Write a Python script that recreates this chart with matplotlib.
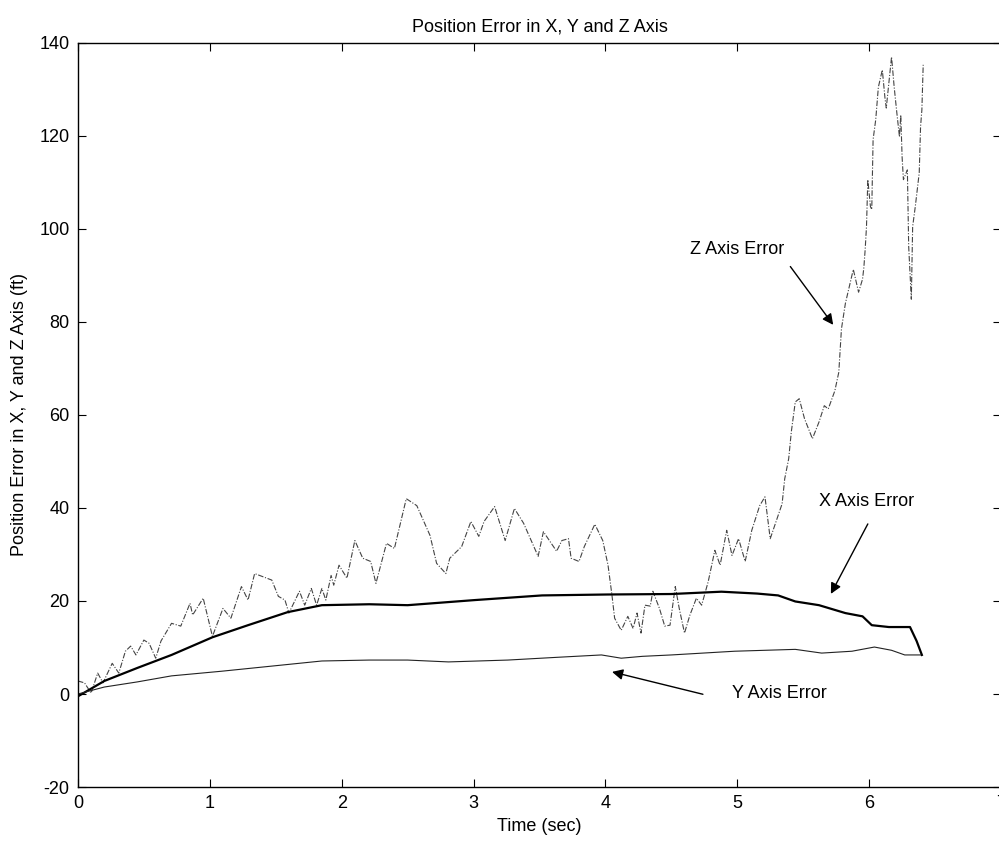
import matplotlib
matplotlib.use('Agg')
import matplotlib.pyplot as plt

plt.rcParams['font.family'] = ['Liberation Sans', 'DejaVu Sans']
plt.rcParams['axes.unicode_minus'] = False

# position error traces (ft) vs time (sec)
t_x = [0.00, 0.20, 0.45, 0.71, 1.02, 1.29, 1.59, 1.85, 2.21, 2.50, 3.01, 3.52,
       4.02, 4.50, 4.88, 5.15, 5.31, 5.44, 5.62, 5.82, 5.95, 6.02, 6.15, 6.31,
       6.36, 6.40]
err_x = [-0.5, 2.8, 5.6, 8.4, 12.2, 14.8, 17.6, 19.1, 19.3, 19.1, 20.2, 21.2,
         21.4, 21.5, 22.0, 21.6, 21.2, 19.9, 19.1, 17.4, 16.7, 14.8, 14.4, 14.4,
         11.4, 8.4]

t_y = [0.00, 0.20, 0.45, 0.71, 1.09, 1.47, 1.85, 2.21, 2.50, 2.81, 3.26, 3.64,
       3.97, 4.12, 4.28, 4.50, 4.98, 5.44, 5.64, 5.87, 6.04, 6.17, 6.27, 6.39]
err_y = [0.0, 1.5, 2.6, 3.9, 4.9, 6.0, 7.1, 7.3, 7.3, 6.9, 7.3, 7.9,
         8.4, 7.7, 8.1, 8.4, 9.2, 9.6, 8.8, 9.2, 10.1, 9.4, 8.4, 8.4]

t_z = [0.00, 0.05, 0.10, 0.15, 0.19, 0.26, 0.31, 0.36, 0.40, 0.44, 0.50, 0.54,
       0.59, 0.63, 0.71, 0.78, 0.85, 0.87, 0.95, 1.02, 1.10, 1.16, 1.24, 1.29,
       1.34, 1.47, 1.52, 1.57, 1.60, 1.68, 1.72, 1.77, 1.81, 1.85, 1.88, 1.92,
       1.94, 1.98, 2.04, 2.10, 2.16, 2.22, 2.26, 2.34, 2.40, 2.49, 2.57, 2.67,
       2.72, 2.79, 2.82, 2.91, 2.98, 3.04, 3.08, 3.16, 3.24, 3.31, 3.38, 3.44,
       3.49, 3.53, 3.58, 3.63, 3.67, 3.72, 3.74, 3.80, 3.84, 3.92, 3.98, 4.02,
       4.05, 4.07, 4.12, 4.17, 4.21, 4.24, 4.27, 4.30, 4.34, 4.36, 4.41, 4.45,
       4.49, 4.53, 4.56, 4.60, 4.64, 4.69, 4.73, 4.78, 4.83, 4.87, 4.92, 4.96,
       5.01, 5.06, 5.11, 5.17, 5.21, 5.25, 5.31, 5.34, 5.36, 5.39, 5.41, 5.44,
       5.47, 5.51, 5.57, 5.62, 5.66, 5.69, 5.74, 5.77, 5.79, 5.82, 5.85, 5.88,
       5.92, 5.95, 5.96, 5.97, 5.98, 5.99, 6.01, 6.02, 6.03, 6.05, 6.07, 6.10,
       6.12, 6.13, 6.15, 6.17, 6.19, 6.21, 6.23, 6.24, 6.25, 6.26, 6.29, 6.30,
       6.32, 6.33, 6.35, 6.38, 6.39, 6.40, 6.41]
err_z = [2.8, 2.4, 0.2, 4.5, 2.4, 6.6, 4.5, 9.2, 10.3, 8.4, 11.6, 10.9,
         7.7, 11.4, 15.2, 14.6, 19.5, 17.0, 20.6, 12.4, 18.4, 16.3, 23.1, 20.2,
         25.9, 24.5, 21.0, 20.2, 17.4, 22.1, 19.1, 22.7, 19.1, 22.7, 20.2, 25.5,
         23.4, 27.7, 24.9, 33.0, 29.2, 28.5, 23.8, 32.4, 31.3, 42.0, 40.5, 34.1,
         28.1, 25.9, 29.2, 31.7, 37.1, 33.9, 37.1, 40.3, 33.0, 39.9, 36.7, 32.8,
         29.6, 34.9, 32.8, 30.7, 33.0, 33.4, 29.2, 28.5, 31.7, 36.5, 33.0, 27.7,
         21.2, 16.3, 13.7, 16.7, 14.1, 17.4, 13.1, 19.1, 18.9, 22.1, 18.4, 14.6,
         14.8, 23.1, 18.4, 13.1, 16.9, 20.6, 19.1, 24.2, 30.9, 27.7, 35.2, 29.8,
         33.4, 28.5, 35.2, 40.5, 42.4, 33.4, 38.4, 40.9, 46.3, 50.6, 56.4, 62.8,
         63.5, 59.2, 54.9, 58.5, 62.0, 61.3, 65.2, 69.2, 78.5, 84.0, 87.7, 91.3,
         86.4, 89.2, 91.7, 95.6, 100.5, 110.6, 104.8, 104.2, 119.2, 123.5, 130.5, 134.2,
         128.2, 126.0, 131.4, 137.0, 130.5, 125.0, 119.8, 124.5, 115.5, 110.6, 112.7, 96.2,
         84.9, 100.5, 104.8, 112.1, 122.0, 125.6, 135.3]

x_ticks = [0, 1, 2, 3, 4, 5, 6, 7]
y_ticks = [-20, 0, 20, 40, 60, 80, 100, 120, 140]

fig = plt.figure(figsize=(9.99, 8.42), dpi=100)
ax = fig.add_axes([0.078, 0.0653, 1.002 - 0.078, 0.949 - 0.0653])

ax.plot(t_z, err_z, color='#444444', lw=0.8, linestyle=(0, (5, 1.5, 1, 1.5)))
ax.plot(t_x, err_x, color='black', lw=1.6)
ax.plot(t_y, err_y, color='#222222', lw=0.8)

ax.set_xlim(0, 7)
ax.set_ylim(-20, 140)
ax.set_xticks(x_ticks)
ax.set_yticks(y_ticks)
ax.tick_params(direction='in', length=6, width=0.8, labelsize=13,
               top=True, right=True, pad=6)
for s in ax.spines.values():
    s.set_linewidth(1.0)

ax.set_title('Position Error in X, Y and Z Axis', fontsize=13, pad=8)
ax.set_xlabel('Time (sec)', fontsize=13, labelpad=4)
ax.set_ylabel('Position Error in X, Y and Z Axis (ft)', fontsize=13, labelpad=8)

arrow = dict(arrowstyle='-|>', color='black', lw=1.0, mutation_scale=16)
ax.text(5.0, 95.6, 'Z Axis Error', fontsize=13, ha='center', va='center')
ax.annotate('', xy=(5.74, 78.9), xytext=(5.39, 92.4), arrowprops=arrow)
ax.text(5.98, 41.4, 'X Axis Error', fontsize=13, ha='center', va='center')
ax.annotate('', xy=(5.70, 21.0), xytext=(6.0, 37.1), arrowprops=arrow)
ax.text(5.32, 0.2, 'Y Axis Error', fontsize=13, ha='center', va='center')
ax.annotate('', xy=(4.03, 4.9), xytext=(4.76, -0.2), arrowprops=arrow)

fig.savefig('out.png', dpi=100)
